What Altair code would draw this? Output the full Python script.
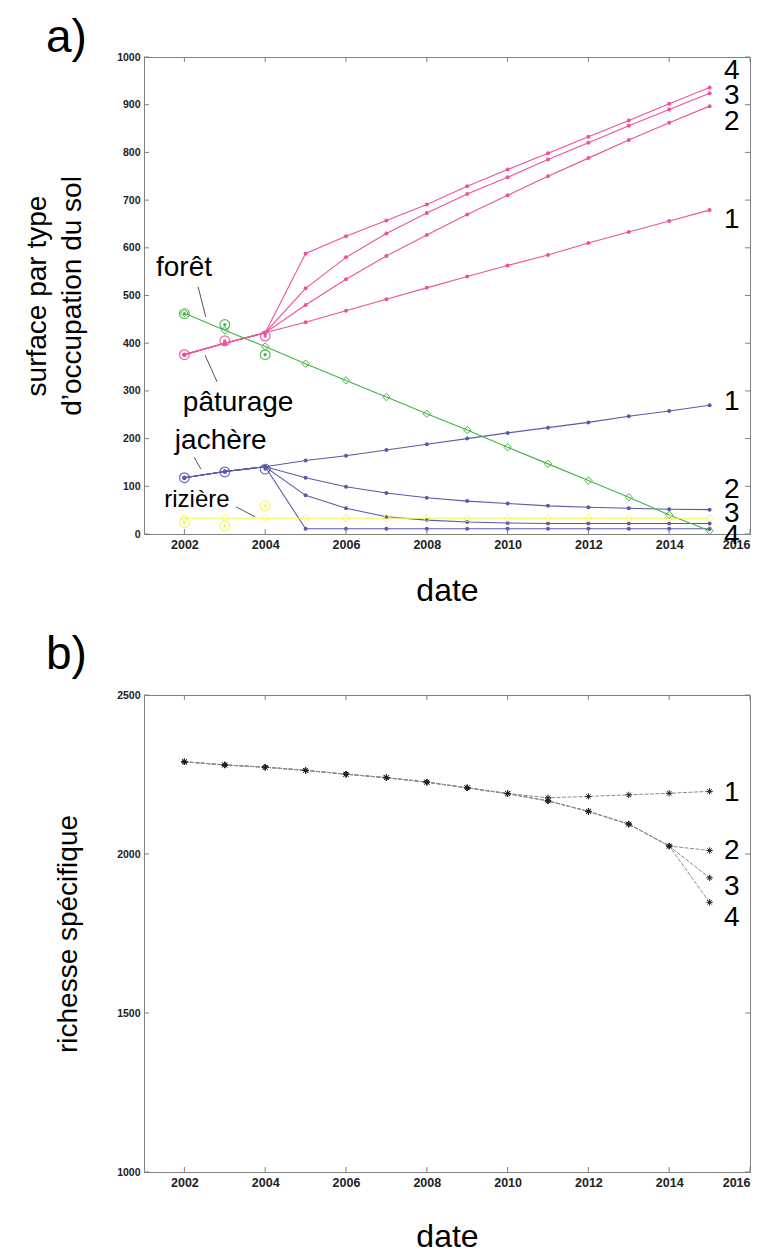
import altair as alt
import pandas as pd

FONT = "Liberation Sans"

# ---------------- panel a data ----------------
years_all = [2002, 2003, 2004, 2005, 2006, 2007, 2008, 2009, 2010, 2011, 2012, 2013, 2014, 2015]
years_hist = [2002, 2003, 2004]
years_scen = [2005, 2006, 2007, 2008, 2009, 2010, 2011, 2012, 2013, 2014, 2015]

# pâturage (pasture)
pat_hist = [376, 400, 422]
pat_s1 = [444, 468, 492, 516, 540, 563, 585, 610, 633, 656, 679]
pat_s2 = [480, 534, 583, 627, 670, 710, 750, 788, 826, 862, 897]
pat_s3 = [515, 580, 630, 673, 713, 748, 785, 820, 856, 890, 924]
pat_s4 = [588, 624, 657, 691, 729, 764, 798, 833, 867, 902, 936]
pat_obs = [376, 405, 415]

# jachère (fallow)
jac_hist = [118, 131, 141]
jac_s1 = [154, 164, 176, 188, 200, 212, 223, 234, 247, 258, 270]
jac_s2 = [118, 99, 86, 76, 69, 64, 59, 56, 54, 52, 51]
jac_s3 = [81, 54, 36, 29, 25, 23, 22, 22, 22, 22, 22]
jac_s4 = [11, 11, 11, 11, 11, 11, 11, 11, 11, 11, 11]
jac_obs = [118, 130, 136]

# forêt (forest)
for_vals = [463, 427, 393, 357, 322, 287, 252, 218, 182, 147, 112, 77, 40, 7]
for_obs = [462, 439, 376]

# rizière (rice field)
riz_vals = [33, 33, 33, 33, 33, 33, 33, 33, 33, 33, 33, 33, 33, 33]
riz_obs = [24, 17, 59]

# scenario labels (panel a)
lab_a_text = ["4", "3", "2", "1", "1", "2", "3", "4"]
lab_a_val = [971, 919, 863, 658, 276, 92, 42, -5]

# land-use annotations
ann_text = ["forêt", "pâturage", "jachère", "rizière"]
ann_year = [2001.99, 2003.33, 2002.9, 2002.31]
ann_val = [558, 275, 195, 71]
ann_size = [28, 28, 28, 24]
lead_year = [2002.34, 2002.51, 2002.24, 2003.28]
lead_year2 = [2002.53, 2002.81, 2002.41, 2003.75]
lead_val = [518, 375, 161, 57]
lead_val2 = [455, 319, 136, 36]

# ---------------- panel b data ----------------
rich_hist_years = [2002, 2003, 2004, 2005, 2006, 2007, 2008, 2009, 2010]
rich_hist = [2290, 2280, 2273, 2263, 2251, 2240, 2226, 2208, 2190]
rich_scen_years = [2011, 2012, 2013, 2014, 2015]
rich_s1 = [2177, 2181, 2186, 2191, 2197]
rich_s2 = [2167, 2134, 2094, 2025, 2011]
rich_s3 = [2167, 2134, 2094, 2025, 1925]
rich_s4 = [2167, 2134, 2094, 2025, 1848]
lab_b_text = ["1", "2", "3", "4"]
lab_b_val = [2192, 2008, 1897, 1799]

xticks = [2002, 2004, 2006, 2008, 2010, 2012, 2014, 2016]
yticks_a = [0, 100, 200, 300, 400, 500, 600, 700, 800, 900, 1000]
yticks_b = [1000, 1500, 2000, 2500]

W, H = 606, 477
FRAME = "#808080"

# ---------------- build tables ----------------
rows = []
def add_series(kind, name, hist, scen):
    ys = years_hist + years_scen
    vs = hist + scen
    for y, v in zip(ys, vs):
        rows.append({"year": y, "value": v, "kind": kind, "series": name})

for i, s in enumerate([pat_s1, pat_s2, pat_s3, pat_s4]):
    add_series("pat", f"pat{i+1}", pat_hist, s)
for i, s in enumerate([jac_s1, jac_s2, jac_s3, jac_s4]):
    add_series("jac", f"jac{i+1}", jac_hist, s)
for y, v in zip(years_all, for_vals):
    rows.append({"year": y, "value": v, "kind": "for", "series": "for"})
for y, v in zip(years_all, riz_vals):
    rows.append({"year": y, "value": v, "kind": "riz", "series": "riz"})
df_a = pd.DataFrame(rows)

obs_rows = []
for kind, vals in [("pat", pat_obs), ("jac", jac_obs), ("for", for_obs), ("riz", riz_obs)]:
    for y, v in zip(years_hist, vals):
        obs_rows.append({"year": y, "value": v, "kind": kind})
df_obs = pd.DataFrame(obs_rows)

kinds = ["pat", "jac", "for", "riz"]
line_col = ["#f0509c", "#5a5aaa", "#44b444", "#f4f45a"]
mark_col = ["#d0006a", "#0c0c5a", "#2ea02e", "#e6e632"]

xscale = alt.Scale(domain=[2001, 2016], nice=False, zero=False)
yscale_a = alt.Scale(domain=[0, 1000], nice=False, zero=False)
yscale_b = alt.Scale(domain=[1000, 2500], nice=False, zero=False)

def make_x(title_pad):
    return alt.X("year:Q", scale=xscale,
                 axis=alt.Axis(values=xticks, format="d", title="date", ticks=False, grid=False,
                               labelPadding=4, labelFontSize=12.5, titlePadding=title_pad, titleFontSize=32))

Xa = make_x(25)
Xb = make_x(33)

Ya = alt.Y("value:Q", scale=yscale_a,
           axis=alt.Axis(values=yticks_a, format="d", title=["surface par type", "d\u2019occupation du sol"],
                         ticks=False, grid=False, labelPadding=4, labelFontSize=10.5, titlePadding=30,
                         titleFontSize=28, titleLineHeight=35))
Yb = alt.Y("value:Q", scale=yscale_b,
           axis=alt.Axis(values=yticks_b, format="d", title="richesse spécifique", ticks=False, grid=False,
                         labelPadding=4, labelFontSize=10.5, titlePadding=34, titleFontSize=28))


def ticks_layer(X, Y, yvals):
    dfx = pd.DataFrame({"year": xticks})
    dfy = pd.DataFrame({"value": yvals})
    b = alt.Chart(dfx).mark_rule(color=FRAME, strokeWidth=1).encode(x=X, y=alt.value(H), y2=alt.value(H - 5))
    t = alt.Chart(dfx).mark_rule(color=FRAME, strokeWidth=1).encode(x=X, y=alt.value(0), y2=alt.value(5))
    l = alt.Chart(dfy).mark_rule(color=FRAME, strokeWidth=1).encode(y=Y, x=alt.value(0), x2=alt.value(5))
    r = alt.Chart(dfy).mark_rule(color=FRAME, strokeWidth=1).encode(y=Y, x=alt.value(W), x2=alt.value(W - 5))
    return [b, t, l, r]


color_line = alt.Color("kind:N", scale=alt.Scale(domain=kinds, range=line_col), legend=None)
color_mark = alt.Color("kind:N", scale=alt.Scale(domain=kinds, range=mark_col), legend=None)

base_a = alt.Chart(df_a)
lines_a = base_a.mark_line(strokeWidth=1.1).encode(x=Xa, y=Ya, color=color_line, detail="series:N")
dots_a = base_a.transform_filter(alt.FieldOneOfPredicate(field="kind", oneOf=["pat", "jac"])).mark_point(
    shape="circle", filled=True, size=16, opacity=1).encode(x=Xa, y=Ya, color=color_mark)
diam_a = base_a.transform_filter(alt.FieldOneOfPredicate(field="kind", oneOf=["for", "riz"])).mark_point(
    shape="diamond", filled=False, size=55, strokeWidth=1, opacity=1).encode(x=Xa, y=Ya, color=color_mark)
obs_ring = alt.Chart(df_obs).mark_point(shape="circle", filled=False, size=95, strokeWidth=1.2, opacity=0.9).encode(
    x=Xa, y=Ya, color=color_mark)
obs_dot = alt.Chart(df_obs).mark_point(shape="circle", filled=True, size=10, opacity=1).encode(
    x=Xa, y=Ya, color=color_mark)

df_ann = pd.DataFrame({"year": ann_year, "value": ann_val, "text": ann_text, "size": ann_size})
ann_a = alt.Chart(df_ann).mark_text(font=FONT, color="black", baseline="middle", align="center").encode(
    x=Xa, y=Ya, text="text:N", size=alt.Size("size:Q", scale=None, legend=None))
df_lead = pd.DataFrame({"year": lead_year, "year2": lead_year2, "value": lead_val, "value2": lead_val2})
lead_a = alt.Chart(df_lead).mark_rule(color="#555555", strokeWidth=1).encode(
    x=Xa, x2="year2:Q", y=Ya, y2="value2:Q")

df_lab_a = pd.DataFrame({"year": [2015.55] * len(lab_a_text), "value": lab_a_val, "text": lab_a_text})
lab_a = alt.Chart(df_lab_a).mark_text(font=FONT, fontSize=28, color="black", baseline="middle", align="center").encode(
    x=Xa, y=Ya, text="text:N")

panel_a = alt.layer(
    lines_a, dots_a, diam_a, obs_ring, obs_dot, lead_a, ann_a, lab_a, *ticks_layer(Xa, Ya, yticks_a)
).properties(
    width=W, height=H,
    title=alt.TitleParams("a)", anchor="start", frame="group", dx=-98, fontSize=46,
                          fontWeight="normal", font=FONT, color="black", offset=-10),
)

# ---------------- panel b ----------------
rows_b = []
for i, s in enumerate([rich_s1, rich_s2, rich_s3, rich_s4]):
    for y, v in zip(rich_hist_years + rich_scen_years, rich_hist + s):
        rows_b.append({"year": y, "value": v, "series": f"s{i+1}"})
df_b = pd.DataFrame(rows_b)

asterisk = "M-1,0L1,0M0,-1L0,1M-0.7,-0.7L0.7,0.7M-0.7,0.7L0.7,-0.7"
lines_b = alt.Chart(df_b).mark_line(color="#8c8c8c", strokeWidth=1, strokeDash=[4, 1.5]).encode(
    x=Xb, y=Yb, detail="series:N")
pts_b = alt.Chart(df_b).mark_point(shape=asterisk, filled=False, size=40, color="#222222", strokeWidth=1,
                                    opacity=1).encode(x=Xb, y=Yb)
df_lab_b = pd.DataFrame({"year": [2015.55] * len(lab_b_text), "value": lab_b_val, "text": lab_b_text})
lab_b = alt.Chart(df_lab_b).mark_text(font=FONT, fontSize=28, color="black", baseline="middle", align="center").encode(
    x=Xb, y=Yb, text="text:N")

panel_b = alt.layer(lines_b, pts_b, lab_b, *ticks_layer(Xb, Yb, yticks_b)).properties(
    width=W, height=H,
    title=alt.TitleParams("b)", anchor="start", frame="group", dx=-98, fontSize=46,
                          fontWeight="normal", font=FONT, color="black", offset=11),
)

chart = alt.vconcat(panel_a, panel_b, spacing=24).properties(
    padding={"left": 15, "top": 6, "right": 5, "bottom": 5},
    background="white",
).configure(
    font=FONT
).configure_view(
    stroke=FRAME, strokeWidth=1
).configure_axis(
    labelFont=FONT, labelFontWeight="bold", labelColor="#222222",
    titleFont=FONT, titleFontWeight="normal", titleColor="black",
    domainColor=FRAME, domainWidth=1,
)

chart.save("out.html", embed_options={"renderer": "svg", "actions": False})
